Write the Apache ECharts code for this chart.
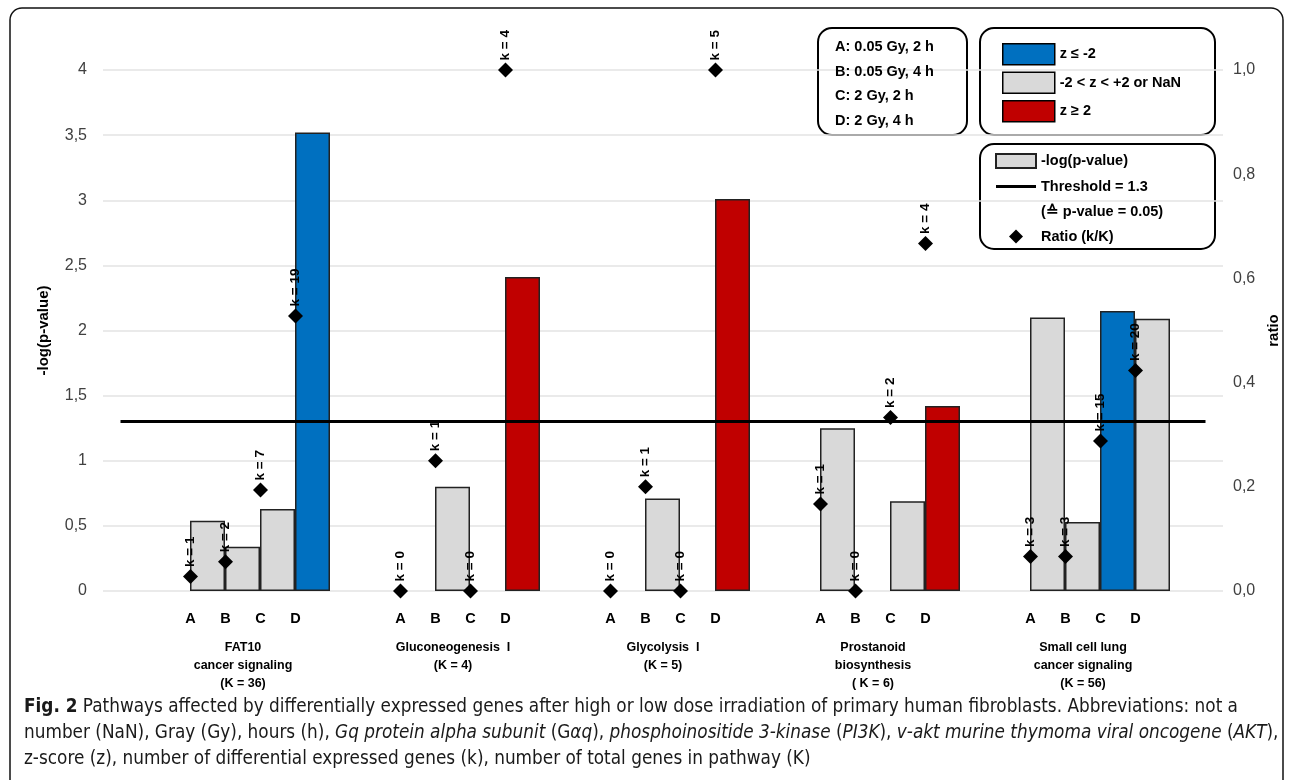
<!DOCTYPE html>
<html>
<head>
<meta charset="utf-8">
<script src="https://cdn.jsdelivr.net/npm/echarts@6/dist/echarts.min.js"></script>
<style>
html,body{margin:0;padding:0;background:#fff;}
#chart{width:1290px;height:780px;}
</style>
</head>
<body>
<div id="chart"></div>
<script>
// ---- data (one entry per slot on the category axis; '' = spacer slot) ----
const slotLabels = ['', '', 'A', 'B', 'C', 'D', '', '', 'A', 'B', 'C', 'D', '', '', 'A', 'B', 'C', 'D', '', '', 'A', 'B', 'C', 'D', '', '', 'A', 'B', 'C', 'D', '', ''];
const groupNames = ['FAT10\ncancer signaling\n(K = 36)', 'Gluconeogenesis  I\n(K = 4)', 'Glycolysis  I\n(K = 5)', 'Prostanoid\nbiosynthesis\n( K = 6)', 'Small cell lung\ncancer signaling\n(K = 56)'];
const groupCenters = [4, 10, 16, 22, 28];
// -log(p-value)
const negLogP = ['-', '-', 0.54, 0.34, 0.63, 3.52, '-', '-', '-', 0.80, '-', 2.41, '-', '-', '-', 0.71, '-', 3.01, '-', '-', 1.25, '-', 0.69, 1.42, '-', '-', 2.10, 0.53, 2.15, 2.09, '-', '-'];
// z-score class: n = -2<z<+2 or NaN, b = z<=-2, r = z>=2
const zClass = ['', '', 'n', 'n', 'n', 'b', '', '', 'n', 'n', 'n', 'r', '', '', 'n', 'n', 'n', 'r', '', '', 'n', 'n', 'n', 'r', '', '', 'n', 'n', 'b', 'n', '', ''];
// ratio k/K
const ratios = ['-', '-', 0.028, 0.056, 0.194, 0.528, '-', '-', 0, 0.25, 0, 1.0, '-', '-', 0, 0.2, 0, 1.0, '-', '-', 0.167, 0, 0.333, 0.667, '-', '-', 0.066, 0.066, 0.288, 0.423, '-', '-'];
const kCounts = ['', '', 1, 2, 7, 19, '', '', 0, 1, 0, 4, '', '', 0, 1, 0, 5, '', '', 1, 0, 2, 4, '', '', 3, 3, 15, 20, '', ''];
const threshold = 1.3;
const conditions = ['A: 0.05 Gy, 2 h', 'B: 0.05 Gy, 4 h', 'C: 2 Gy, 2 h', 'D: 2 Gy, 4 h'];
const zNames = ['z ≤ -2', '-2 < z < +2 or NaN', 'z ≥ 2'];

const COLORS = { n: '#D9D9D9', b: '#0070C0', r: '#C00000' };
const FONT = '"Liberation Sans", Arial, sans-serif';
const CAPFONT = '"DejaVu Sans Condensed", "Liberation Sans Narrow", sans-serif';
const CAPSIZE = 18.8;

const barData = negLogP.map((v, i) => v === '-' ? '-' : {
  value: v,
  itemStyle: { color: COLORS[zClass[i]] }
});

const chart = echarts.init(document.getElementById('chart'), null, { renderer: 'canvas' });

const option = {
  backgroundColor: '#fff',
  animation: false,
  textStyle: { fontFamily: FONT },
  grid: { left: 103, right: 67, top: 70, bottom: 189, containLabel: false },
  title: [
    {
      text: conditions.join('\n'),
      left: 830, top: 30,
      textStyle: { fontFamily: FONT, fontWeight: 'bold', fontSize: 14.5, lineHeight: 24.5, color: '#000' }
    },
    {
      text: '{b|Fig. 2} Pathways affected by differentially expressed genes after high or low dose irradiation of primary human fibroblasts. Abbreviations: not a\n' +
            'number (NaN), Gray (Gy), hours (h), {i|Gq protein alpha subunit} (G{i|αq}), {i|phosphoinositide 3-kinase} ({i|PI3K}), {i|v-akt murine thymoma viral oncogene} ({i|AKT}),\n' +
            'z-score (z), number of differential expressed genes (k), number of total genes in pathway (K)',
      left: 19, top: 689,
      textStyle: {
        fontFamily: CAPFONT,
        fontSize: CAPSIZE, fontWeight: 'normal', color: '#1a1a1a', lineHeight: 26,
        rich: {
          b: { fontFamily: CAPFONT, fontWeight: 'bold', fontSize: CAPSIZE, color: '#1a1a1a', lineHeight: 26 },
          i: { fontFamily: CAPFONT, fontStyle: 'italic', fontSize: CAPSIZE, color: '#1a1a1a', lineHeight: 26 }
        }
      }
    }
  ],
  legend: [
    {
      data: zNames.map(n => ({ name: n, icon: 'rect' })),
      orient: 'vertical', left: 997, top: 38,
      itemWidth: 52, itemHeight: 21, itemGap: 6,
      selectedMode: false,
      itemStyle: { borderColor: '#000', borderWidth: 1.5 },
      textStyle: { fontFamily: FONT, fontWeight: 'bold', fontSize: 14.5, color: '#000' }
    },
    {
      data: [
        { name: '-log(p-value)', icon: 'rect' },
        { name: 'Threshold = 1.3', icon: 'path://M0,0L40,0L40,3L0,3Z' },
        { name: '(≙ p-value = 0.05)', icon: 'none' },
        { name: 'Ratio (k/K)', icon: 'path://M7,0L14,7L7,14L0,7Z' }
      ],
      orient: 'vertical', left: 990, top: 148,
      itemWidth: 40, itemHeight: 14, itemGap: 10,
      selectedMode: false,
      symbolKeepAspect: true,
      textStyle: { fontFamily: FONT, fontWeight: 'bold', fontSize: 14.5, color: '#000' }
    }
  ],
  xAxis: [
    {
      type: 'category', data: slotLabels, boundaryGap: true,
      axisLine: { show: false }, axisTick: { show: false },
      axisLabel: { interval: 0, margin: 20, fontFamily: FONT, fontWeight: 'bold', fontSize: 14.5, color: '#000' }
    },
    {
      type: 'value', min: 0, max: 32, interval: 2, position: 'bottom',
      axisLine: { show: false }, axisTick: { show: false }, splitLine: { show: false },
      axisLabel: {
        margin: 48, fontFamily: FONT, fontWeight: 'bold', fontSize: 12.5, lineHeight: 18, color: '#000',
        showMinLabel: false, showMaxLabel: false,
        formatter: v => { const i = groupCenters.indexOf(v); return i >= 0 ? groupNames[i] : ''; }
      }
    }
  ],
  yAxis: [
    {
      type: 'value', min: 0, max: 4, interval: 0.5, position: 'left',
      name: '-log(p-value)', nameLocation: 'middle', nameGap: 52, nameRotate: 90,
      nameTextStyle: { fontFamily: FONT, fontWeight: 'bold', fontSize: 15, color: '#000' },
      axisLine: { show: false }, axisTick: { show: false },
      axisLabel: { margin: 16, fontFamily: FONT, fontSize: 16, color: '#404040',
        formatter: v => String(v).replace('.', ',') },
      splitLine: { show: true, lineStyle: { color: '#E3E3E3', width: 1.5 } }
    },
    {
      type: 'value', min: 0, max: 1, interval: 0.2, position: 'right',
      name: 'ratio', nameLocation: 'middle', nameGap: 43, nameRotate: 90,
      nameTextStyle: { fontFamily: FONT, fontWeight: 'bold', fontSize: 15, color: '#000' },
      axisLine: { show: false }, axisTick: { show: false },
      axisLabel: { margin: 10, fontFamily: FONT, fontSize: 16, color: '#404040',
        formatter: v => v.toFixed(1).replace('.', ',') },
      splitLine: { show: false }
    }
  ],
  series: [
    {
      name: '-log(p-value)', type: 'bar', xAxisIndex: 0, yAxisIndex: 0,
      data: barData, barWidth: '100%', barGap: '-100%',
      itemStyle: { color: COLORS.n, borderColor: '#222', borderWidth: 1.5 },
      z: 2
    },
    {
      name: 'Threshold = 1.3', type: 'line', xAxisIndex: 0, yAxisIndex: 0,
      data: [], symbol: 'none', showSymbol: false,
      lineStyle: { color: '#000', width: 3 }, itemStyle: { color: '#000' },
      markLine: {
        silent: true, symbol: 'none', label: { show: false },
        lineStyle: { color: '#000', width: 3, type: 'solid' },
        data: [[{ coord: [0, threshold] }, { coord: [31, threshold] }]]
      },
      z: 3
    },
    {
      name: '(≙ p-value = 0.05)', type: 'line', data: [], symbol: 'none',
      lineStyle: { opacity: 0 }, itemStyle: { opacity: 0 }
    },
    {
      name: 'Ratio (k/K)', type: 'scatter', xAxisIndex: 0, yAxisIndex: 1,
      data: ratios, symbol: 'diamond', symbolSize: 15,
      itemStyle: { color: '#000', opacity: 1 },
      label: {
        show: true, position: 'top', rotate: 90, align: 'left', verticalAlign: 'middle', distance: 2,
        fontFamily: FONT, fontWeight: 'bold', fontSize: 13.5, color: '#000',
        formatter: p => 'k = ' + kCounts[p.dataIndex]
      },
      z: 5
    },
    { name: zNames[0], type: 'bar', data: [], itemStyle: { color: COLORS.b, borderColor: '#000', borderWidth: 1.5 } },
    { name: zNames[1], type: 'bar', data: [], itemStyle: { color: COLORS.n, borderColor: '#000', borderWidth: 1.5 } },
    { name: zNames[2], type: 'bar', data: [], itemStyle: { color: COLORS.r, borderColor: '#000', borderWidth: 1.5 } }
  ],
  graphic: [
    { type: 'rect', shape: { x: 10, y: 8, width: 1273, height: 820, r: 12 }, style: { fill: 'none', stroke: '#111', lineWidth: 1.5 }, z: -1, silent: true },
    { type: 'rect', shape: { x: 818, y: 28, width: 149, height: 107, r: 14 }, style: { fill: 'none', stroke: '#000', lineWidth: 2 }, silent: true },
    { type: 'rect', shape: { x: 980, y: 28, width: 235, height: 107, r: 14 }, style: { fill: 'none', stroke: '#000', lineWidth: 2 }, silent: true },
    { type: 'rect', shape: { x: 980, y: 144, width: 235, height: 105, r: 14 }, style: { fill: 'none', stroke: '#000', lineWidth: 2 }, silent: true }
  ]
};
chart.setOption(option);
</script>
</body>
</html>
